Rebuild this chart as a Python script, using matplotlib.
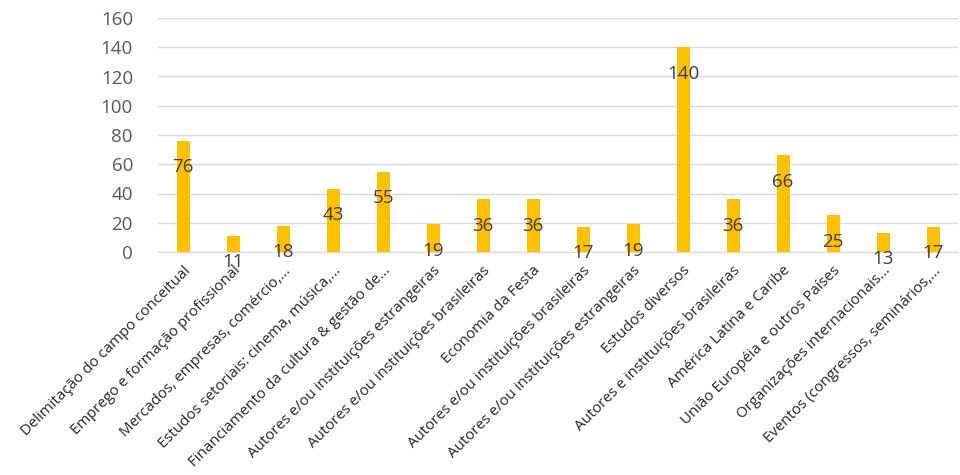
import numpy as np
import matplotlib.pyplot as plt

plt.rcParams['font.family'] = ['Open Sans', 'DejaVu Sans']

# categorias e contagens
categorias = [
    'Delimitação do campo conceitual',
    'Emprego e formação profissional',
    'Mercados, empresas, comércio,...',
    'Estudos setoriais: cinema, música,...',
    'Financiamento da cultura & gestão de...',
    'Autores e/ou instituições estrangeiras',
    'Autores e/ou instituições brasileiras',
    'Economia da Festa',
    'Autores e/ou instituições brasileiras',
    'Autores e/ou instituições estrangeiras',
    'Estudos diversos',
    'Autores e instituições brasileiras',
    'América Latina e Caribe',
    'União Européia e outros Países',
    'Organizações internacionais...',
    'Eventos (congressos, seminários,...',
]
valores = [76, 11, 18, 43, 55, 19, 36, 36, 17, 19, 140, 36, 66, 25, 13, 17]
yticks = [0, 20, 40, 60, 80, 100, 120, 140, 160]

fig = plt.figure(figsize=(9.6, 4.75), dpi=100)
ax = fig.add_axes([158 / 960, 1 - 252 / 475, 800 / 960, 234 / 475])

x = np.arange(len(valores))
ax.bar(x, valores, width=0.26, color='#FFC000', zorder=3)

# rótulos de dados (posição como no Excel, um pouco abaixo do topo)
for xi, v in zip(x, valores):
    ax.text(xi, v - 18, str(v), ha='center', va='center',
            fontsize=13.5, color='#404040', zorder=4)

ax.set_xlim(-0.5, len(valores) - 0.5)
ax.set_ylim(0, 160)
ax.set_yticks(yticks)
ax.yaxis.grid(True, color='#D9D9D9', linewidth=1, zorder=0)
ax.set_axisbelow(True)

for s in ['top', 'right', 'left']:
    ax.spines[s].set_visible(False)
ax.spines['bottom'].set_color('#D9D9D9')

ax.tick_params(axis='y', length=0, labelsize=13.5, labelcolor='#595959', pad=18)
ax.tick_params(axis='x', length=0, pad=8)
ax.set_xticks(x)
ax.set_xticklabels(categorias, rotation=45, ha='right', rotation_mode='anchor',
                   fontsize=10.8, color='#262626')

fig.savefig('out.png', dpi=100)
